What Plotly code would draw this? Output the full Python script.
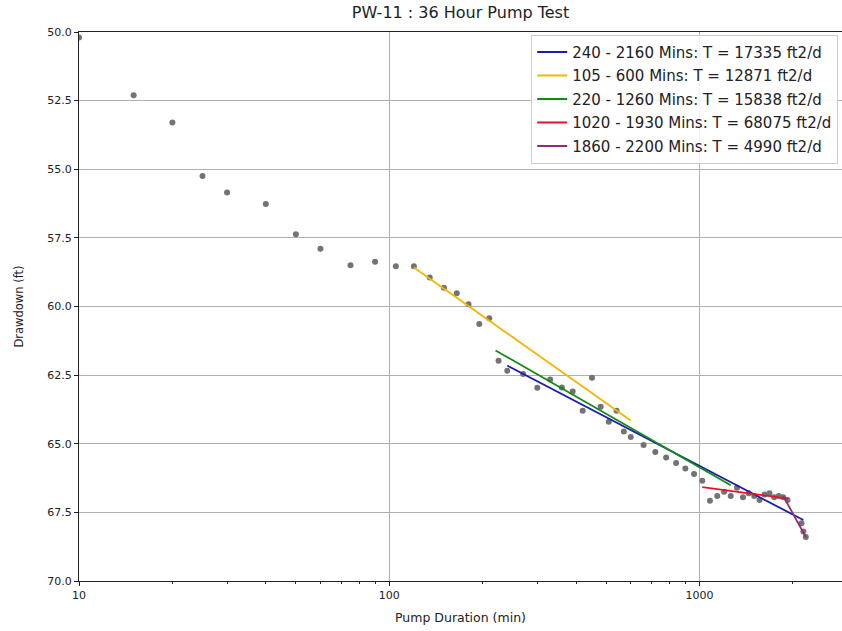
import plotly.graph_objects as go

# Observed drawdown data
time_min = [10, 15, 20, 25, 30, 40, 50, 60, 75, 90, 105, 120, 135, 150, 165, 180, 195, 210,
            225, 240, 270, 300, 330, 360, 390, 420, 450, 480, 510, 540, 570, 600, 660, 720,
            780, 840, 900, 960, 1020, 1080, 1140, 1200, 1260, 1320, 1380, 1440, 1500, 1560,
            1620, 1680, 1740, 1800, 1860, 1920, 2130, 2160, 2200]
drawdown_ft = [50.2, 52.3, 53.3, 55.25, 55.85, 56.27, 57.37, 57.9, 58.5, 58.37, 58.53, 58.53,
               58.94, 59.32, 59.52, 59.92, 60.64, 60.43, 61.98, 62.34, 62.46, 62.96, 62.66,
               62.95, 63.1, 63.8, 62.6, 63.65, 64.2, 63.8, 64.55, 64.75, 65.05, 65.3, 65.5,
               65.7, 65.9, 66.1, 66.35, 67.08, 66.9, 66.75, 66.9, 66.6, 66.95, 66.8, 66.9,
               67.05, 66.85, 66.8, 66.95, 66.9, 66.95, 67.05, 67.9, 68.2, 68.4]

# Straight-line (Cooper-Jacob) fits
fit_labels = ["240 - 2160 Mins: T = 17335 ft2/d", "105 - 600 Mins: T = 12871 ft2/d",
              "220 - 1260 Mins: T = 15838 ft2/d", "1020 - 1930 Mins: T = 68075 ft2/d",
              "1860 - 2200 Mins: T = 4990 ft2/d"]
fit_t_start = [240, 120, 220, 1020, 1860]
fit_t_end = [2160, 600, 1260, 1930, 2200]
fit_d_start = [62.15, 58.58, 61.6, 66.58, 66.9]
fit_d_end = [67.78, 64.15, 66.51, 67.0, 68.4]
fit_colors = ["#1c1cb0", "#f2b705", "#138a13", "#e8102a", "#902a78"]

# Axis ticks
y_ticks = [50.0, 52.5, 55.0, 57.5, 60.0, 62.5, 65.0, 67.5, 70.0]
x_ticks = [10, 100, 1000]
x_minor_ticks = [20, 30, 40, 50, 60, 70, 80, 90, 200, 300, 400, 500, 600, 700, 800, 900, 2000]

FONT = "DejaVu Sans"

fig = go.Figure()
fig.add_trace(go.Scatter(x=time_min, y=drawdown_ft, mode="markers",
                         marker=dict(color="#737373", size=6),
                         showlegend=False, hoverinfo="x+y"))
for i in range(len(fit_labels)):
    fig.add_trace(go.Scatter(x=[fit_t_start[i], fit_t_end[i]],
                             y=[fit_d_start[i], fit_d_end[i]],
                             mode="lines", name=fit_labels[i],
                             legendgroup=str(i),
                             line=dict(color=fit_colors[i], width=1.8)))

fig.update_layout(
    width=842, height=631,
    margin=dict(l=79, r=0, t=32, b=50),
    paper_bgcolor="white", plot_bgcolor="white",
    font=dict(family=FONT, size=11, color="#222"),
    title=dict(text="PW-11 : 36 Hour Pump Test", xref="paper", x=0.5, xanchor="center",
               y=0.98, yanchor="middle", font=dict(size=16, color="#222")),
    showlegend=True,
    legend=dict(x=0.995, y=0.995, xanchor="right", yanchor="top",
                bgcolor="rgba(255,255,255,0.85)", bordercolor="#cccccc",
                borderwidth=1, font=dict(size=15, color="#222"),
                tracegroupgap=1),
)
fig.update_xaxes(type="log", range=[1, 3.459], tickvals=x_ticks,
                 ticktext=[str(v) for v in x_ticks],
                 showgrid=True, gridcolor="#b0b0b0", gridwidth=1,
                 showline=True, linecolor="#222", linewidth=1, mirror=True,
                 ticks="outside", ticklen=4, tickcolor="#222",
                 minor=dict(tickvals=x_minor_ticks, ticks="outside", ticklen=2,
                            tickcolor="#222", showgrid=False),
                 title=dict(text="Pump Duration (min)", font=dict(size=12.5), standoff=12),
                 zeroline=False)
fig.update_yaxes(range=[70, 50], tickvals=y_ticks,
                 ticktext=[f"{v:.1f}" for v in y_ticks],
                 showgrid=True, gridcolor="#b0b0b0", gridwidth=1,
                 showline=True, linecolor="#222", linewidth=1, mirror=True,
                 ticks="outside", ticklen=4, tickcolor="#222",
                 title=dict(text="Drawdown (ft)", font=dict(size=11.5), standoff=21),
                 zeroline=False)

fig.write_html("out.html", config={"displayModeBar": False},
               post_script="document.body.style.margin='0px';")
